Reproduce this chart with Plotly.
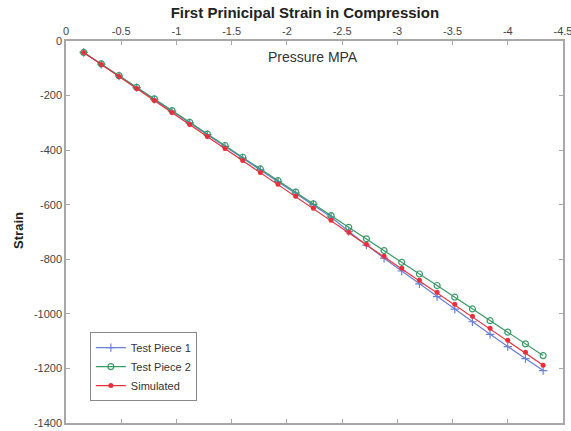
import plotly.graph_objects as go

pressure = [-0.16, -0.32, -0.48, -0.64, -0.80, -0.96, -1.12, -1.28, -1.44, -1.60,
            -1.76, -1.92, -2.08, -2.24, -2.40, -2.56, -2.72, -2.88, -3.04, -3.20,
            -3.36, -3.52, -3.68, -3.84, -4.00, -4.16, -4.32]

test_piece_1 = [-42, -85, -128, -171, -214, -257, -300, -343, -386, -429,
                -472, -515, -557, -599, -645, -698, -748, -796, -843, -890,
                -937, -983, -1029, -1075, -1120, -1164, -1208]

test_piece_2 = [-42, -84, -127, -170, -212, -255, -298, -341, -383, -426,
                -469, -512, -554, -597, -640, -683, -725, -768, -811, -854,
                -896, -939, -982, -1025, -1067, -1110, -1153]

simulated = [-42, -86, -130, -174, -218, -262, -306, -350, -394, -438,
             -482, -525, -569, -613, -657, -701, -745, -789, -833, -877,
             -921, -965, -1009, -1053, -1097, -1141, -1188]

x_ticks = [0, -0.5, -1, -1.5, -2, -2.5, -3, -3.5, -4, -4.5]
x_tick_labels = ["0", "-0.5", "-1", "-1.5", "-2", "-2.5", "-3", "-3.5", "-4", "-4.5"]
y_ticks = [0, -200, -400, -600, -800, -1000, -1200, -1400]
y_tick_labels = ["0", "-200", "-400", "-600", "-800", "-1000", "-1200", "-1400"]

fig = go.Figure()
fig.add_trace(go.Scatter(
    x=pressure, y=test_piece_1, name="Test Piece 1", mode="lines+markers",
    line=dict(color="#6a7fd6", width=1.2),
    marker=dict(symbol="cross-thin-open", size=6, line=dict(color="#6a7fd6", width=1.2)),
))
fig.add_trace(go.Scatter(
    x=pressure, y=test_piece_2, name="Test Piece 2", mode="lines+markers",
    line=dict(color="#3a9a66", width=1.2),
    marker=dict(symbol="circle-open", size=6, line=dict(color="#3a9a66", width=1.2)),
))
fig.add_trace(go.Scatter(
    x=pressure, y=simulated, name="Simulated", mode="lines+markers",
    line=dict(color="#e8303a", width=1.2),
    marker=dict(symbol="circle", size=5, color="#e8303a"),
))

axis_color = "#a8a8a8"
font_color = "#333333"

fig.update_layout(
    width=571, height=431,
    margin=dict(l=66, r=8, t=41, b=8, autoexpand=False),
    paper_bgcolor="white", plot_bgcolor="white",
    font=dict(family="Liberation Sans, Arial, sans-serif", size=11, color=font_color),
    title=dict(text="<b>First Prinicipal Strain in Compression</b>", x=0.534, xanchor="center",
               y=0.97, yanchor="middle", font=dict(size=15, color="#222222")),
    showlegend=True,
    legend=dict(x=0.048, y=0.238, xanchor="left", yanchor="top",
                bordercolor="#888888", borderwidth=1, bgcolor="white",
                font=dict(size=11, color=font_color), tracegroupgap=0,
                itemwidth=30),
    xaxis=dict(
        side="top", range=[0, -4.5], tickvals=x_ticks, ticktext=x_tick_labels,
        ticks="inside", ticklen=4, tickcolor=axis_color, showline=True, linecolor=axis_color,
        linewidth=1.5, mirror="ticks", showgrid=False, zeroline=False, automargin=False,
        ticklabeloverflow="allow", tickfont=dict(size=11, color="#444444"),
    ),
    yaxis=dict(
        range=[-1400, 0], tickvals=y_ticks, ticktext=y_tick_labels, ticks="inside", ticklen=4,
        tickcolor=axis_color, showline=True, linecolor=axis_color, linewidth=1.5, mirror="ticks",
        showgrid=False, zeroline=False, automargin=False, ticklabeloverflow="allow",
        tickfont=dict(size=11, color="#444444"),
    ),
    annotations=[
        dict(text="Pressure MPA", x=0.497, y=0.957, xref="paper", yref="paper",
             showarrow=False, font=dict(size=14, color="#333333"), xanchor="center", yanchor="middle"),
        dict(text="<b>Strain</b>", x=-0.097, y=0.505, xref="paper", yref="paper", textangle=-90,
             showarrow=False, font=dict(size=13, color="#222222"), xanchor="center", yanchor="middle"),
    ],
)

fig.write_html("out.html", config={"displayModeBar": False},
               post_script="document.body.style.margin='0';document.body.style.overflow='hidden';")
